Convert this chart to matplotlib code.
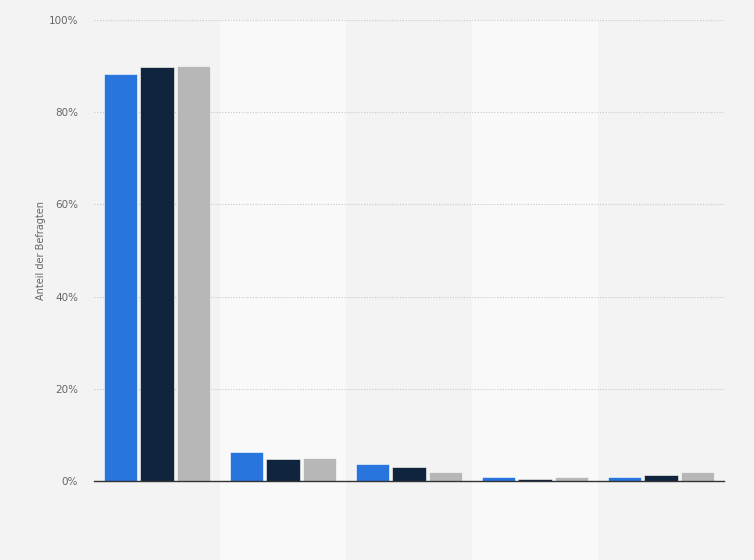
import matplotlib
matplotlib.use('Agg')
import matplotlib.pyplot as plt
import numpy as np

# values (percent)
groups = ['1', '2', '3', '4', '5']
series_a = [88.3, 6.2, 3.7, 0.8, 0.8]
series_b = [89.8, 4.7, 3.0, 0.5, 1.2]
series_c = [90.0, 4.9, 1.9, 0.8, 1.9]
colors = ['#2876dd', '#10253d', '#b7b7b7']
yticks = [0, 20, 40, 60, 80, 100]

bg = '#f3f3f3'
fig = plt.figure(figsize=(7.54, 5.6), dpi=100, facecolor=bg)
ax = fig.add_axes([94 / 754, 79 / 560, 630 / 754, 461 / 560])
ax.set_facecolor(bg)

x = np.arange(len(groups))
width = 0.262
offset = 0.286

# alternating lighter bands behind groups 2 and 4
for i in (1, 3):
    ax.axvspan(i - 0.5, i + 0.5, ymin=-79 / 461, ymax=1, color='#f9f9f9',
               zorder=0, clip_on=False, lw=0)

for k, (vals, col) in enumerate(zip([series_a, series_b, series_c], colors)):
    ax.bar(x + (k - 1) * offset, vals, width=width, color=col,
           edgecolor='white', linewidth=0.4, zorder=3)

ax.set_xlim(-0.5, len(groups) - 0.5)
ax.set_ylim(0, 100)
ax.set_yticks(yticks)
ax.set_yticklabels(['%d%%' % t for t in yticks], fontsize=7.5, color='#666666')
ax.set_xticks([])
ax.yaxis.grid(True, linestyle=(0, (1, 1.5)), color='#c8c8c8', linewidth=0.8, zorder=1)
ax.tick_params(axis='y', length=0, pad=11.5)
for s in ['top', 'right', 'left']:
    ax.spines[s].set_visible(False)
ax.spines['bottom'].set_color('#333333')
ax.spines['bottom'].set_linewidth(1.0)
ax.spines['bottom'].set_zorder(4)
ax.set_ylabel('Anteil der Befragten', fontsize=7, color='#666666')
ax.yaxis.set_label_coords(-48 / 630, 0.5)

fig.savefig('out.png', dpi=100, facecolor=bg)
